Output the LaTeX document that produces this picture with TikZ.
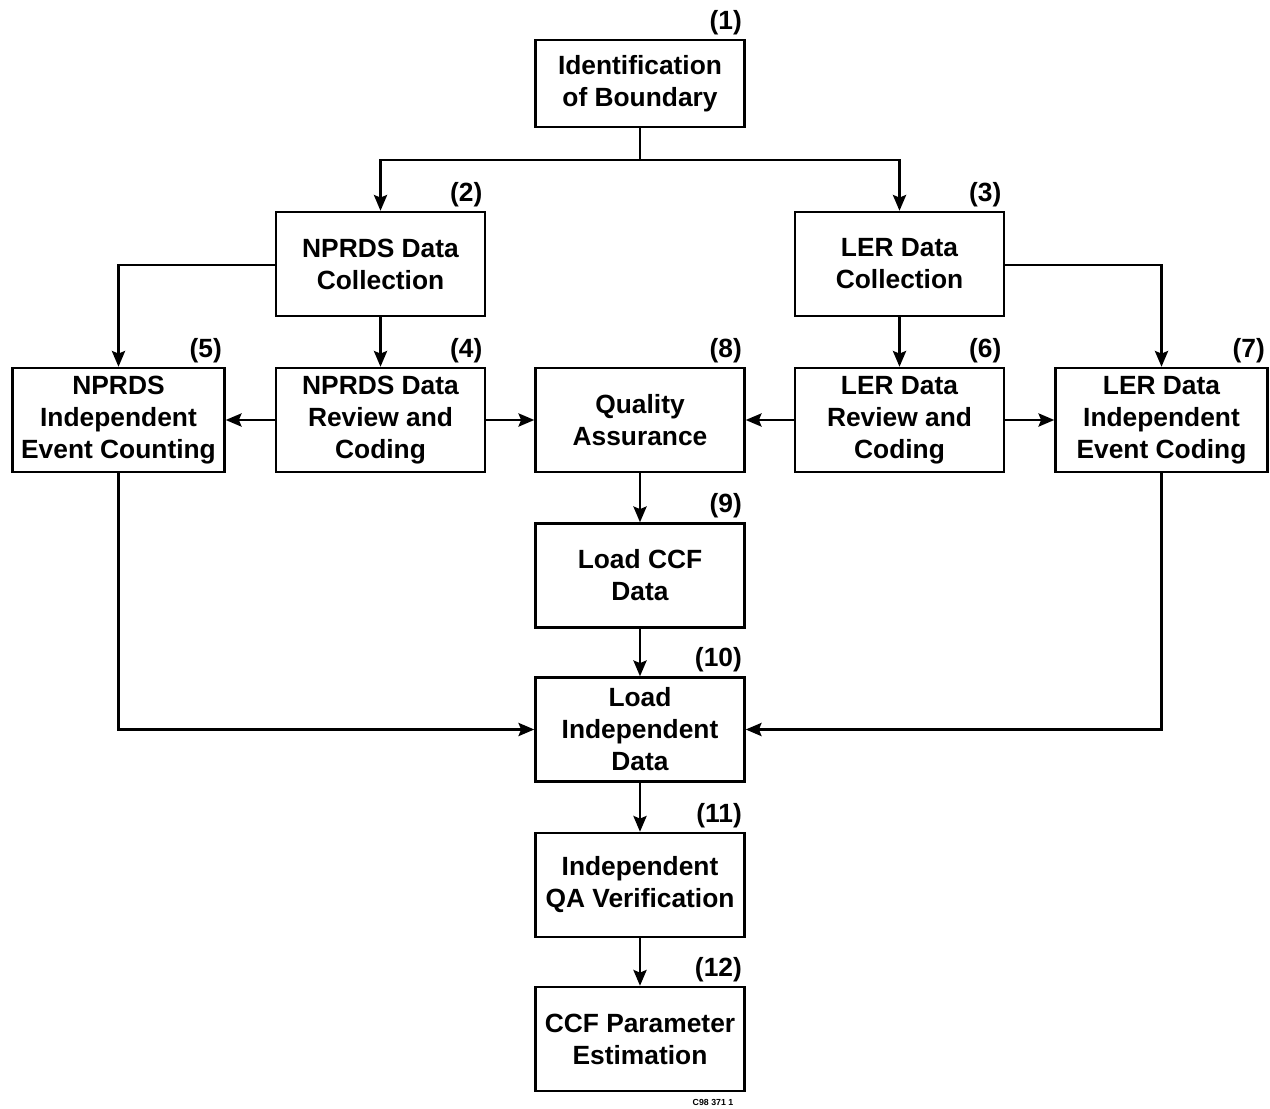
\documentclass[tikz,border=0pt]{standalone}
\usepackage{fontspec}
\setmainfont{Liberation Sans}
\usetikzlibrary{arrows.meta}

\begin{document}
\begin{tikzpicture}[x=0.02cm,y=-0.02cm,->,>={Stealth[length=9pt,width=7.5pt,inset=1.5pt]},line width=1.4pt,
  main box/.style={rectangle,draw,align=center,minimum width=4.18cm,minimum height=2.08cm,
    inner sep=1pt,font=\fontsize{15}{18.2}\selectfont\bfseries},
  wide box/.style={main box,minimum width=4.24cm},
  top box/.style={main box,minimum height=1.74cm},
  num/.style={anchor=south east,inner sep=1.5pt,font=\fontsize{15}{18}\selectfont\bfseries}]

  \useasboundingbox (0,0) rectangle (1270,1108);

  \node[top box,label={[num]north east:{(1)}}] (1) at (640,83.5) {Identification\\of Boundary};
  \node[main box,label={[num]north east:{(2)}}] (2) at (380.5,264) {NPRDS Data\\Collection};
  \node[main box,label={[num]north east:{(3)}}] (3) at (899.5,264) {LER Data\\Collection};
  \node[wide box,label={[num]north east:{(5)}}] (5) at (118.5,420) {NPRDS\\Independent\\Event Counting};
  \node[main box,label={[num]north east:{(4)}}] (4) at (380.5,420) {NPRDS Data\\Review and\\Coding};
  \node[main box,label={[num]north east:{(8)}}] (8) at (640,420) {Quality\\Assurance};
  \node[main box,label={[num]north east:{(6)}}] (6) at (899.5,420) {LER Data\\Review and\\Coding};
  \node[wide box,label={[num]north east:{(7)}}] (7) at (1161.5,420) {LER Data\\Independent\\Event Coding};
  \node[main box,label={[num]north east:{(9)}}] (9) at (640,575.5) {Load CCF\\Data};
  \node[main box,label={[num]north east:{(10)}}] (10) at (640,729.5) {Load\\Independent\\Data};
  \node[main box,label={[num]north east:{(11)}}] (11) at (640,885) {Independent\\QA Verification};
  \node[main box,label={[num]north east:{(12)}}] (12) at (640,1039) {CCF Parameter\\Estimation};
  \node[font=\fontsize{5}{6}\selectfont\bfseries,inner sep=0pt] (tag) at (713,1102) {C98 371 1};

  \coordinate (split) at (640,160);

  \draw[-] (1) -- (split);
  \draw (split) -| (2);
  \draw (split) -| (3);
  \draw (2.west |- 0,265) -| (5);
  \draw (3.east |- 0,265) -| (7);
  \draw (2) -- (4);
  \draw (3) -- (6);
  \draw (4) -- (5);
  \draw (4) -- (8);
  \draw (6) -- (8);
  \draw (6) -- (7);
  \draw (8) -- (9);
  \draw (9) -- (10);
  \draw (10) -- (11);
  \draw (11) -- (12);
  \draw (5) |- (10);
  \draw (7) |- (10);

\end{tikzpicture}
\end{document}
